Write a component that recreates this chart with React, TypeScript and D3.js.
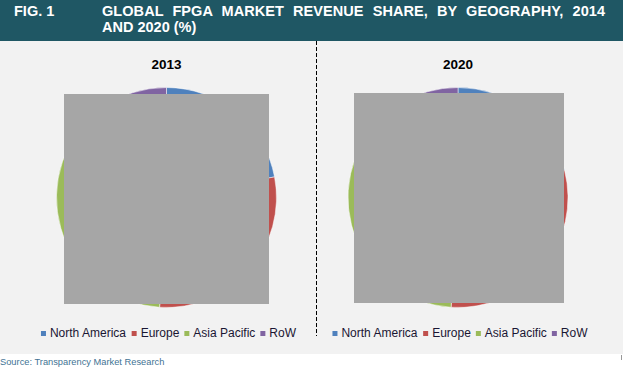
import React, { useEffect, useRef } from 'react';
import * as d3 from 'd3';

// legend / slice categories
const regions = ['North America', 'Europe', 'Asia Pacific', 'RoW'];
const regionColors = ['#4f81bd', '#c0504d', '#9bbb59', '#8064a2'];

// share values (%) — mostly hidden behind the grey boxes
const share2013 = [22, 29, 39, 10];
const share2020 = [21, 30, 40, 9];

const panelYears = ['2013', '2020'];
const titleLine1 = 'GLOBAL FPGA MARKET REVENUE SHARE, BY GEOGRAPHY, 2014';
const titleLine2 = 'AND 2020 (%)';
const sourceText = 'Source: Transparency Market Research';

export default function App() {
  const svgRef = useRef<SVGSVGElement>(null);
  const width = 623;
  const height = 370;

  useEffect(() => {
    if (!svgRef.current) return;
    const svg = d3.select(svgRef.current);
    svg.selectAll('*').remove();

    // background areas
    svg.append('rect').attr('width', width).attr('height', height).attr('fill', '#ffffff');
    svg.append('rect').attr('x', 0).attr('y', 41).attr('width', width).attr('height', 313).attr('fill', '#f2f2f2');
    svg.append('rect').attr('x', 0).attr('y', 0).attr('width', width).attr('height', 41).attr('fill', '#1f5764');

    // header text
    const font = 'Arial, "Liberation Sans", sans-serif';
    svg.append('text')
      .attr('x', 14).attr('y', 16)
      .attr('font-family', font).attr('font-size', 14.5).attr('font-weight', 'bold')
      .attr('fill', '#fff')
      .text('FIG. 1');
    svg.append('text')
      .attr('x', 102).attr('y', 16)
      .attr('font-family', font).attr('font-size', 14.5).attr('font-weight', 'bold')
      .attr('fill', '#fff')
      .attr('textLength', 503).attr('lengthAdjust', 'spacing')
      .style('word-spacing', '5px')
      .text(titleLine1);
    svg.append('text')
      .attr('x', 102).attr('y', 31.5)
      .attr('font-family', font).attr('font-size', 14.5).attr('font-weight', 'bold')
      .attr('fill', '#fff')
      .text(titleLine2);

    // divider
    svg.append('line')
      .attr('x1', 316.5).attr('x2', 316.5).attr('y1', 41).attr('y2', 336)
      .attr('stroke', '#000').attr('stroke-width', 1)
      .attr('stroke-dasharray', '4,2');

    const color = d3.scaleOrdinal<string>().domain(regions).range(regionColors);
    const pie = d3.pie<number>().sort(null).value(d => d);
    const arc = d3.arc<d3.PieArcDatum<number>>().innerRadius(0).outerRadius(110);

    const ctx = document.createElement('canvas').getContext('2d')!;
    ctx.font = '12px Arial, "Liberation Sans", sans-serif';

    const panels = [
      { year: panelYears[0], values: share2013, cx: 166.5, cy: 197.5, box: [64, 94, 205, 210] },
      { year: panelYears[1], values: share2020, cx: 458, cy: 197.5, box: [354, 93, 210, 210] },
    ];

    panels.forEach(p => {
      svg.append('text')
        .attr('x', p.cx).attr('y', 69)
        .attr('text-anchor', 'middle')
        .attr('font-family', font).attr('font-size', 13.5).attr('font-weight', 'bold')
        .attr('fill', '#000')
        .text(p.year);

      const g = svg.append('g').attr('transform', `translate(${p.cx},${p.cy})`);
      g.selectAll('path')
        .data(pie(p.values))
        .join('path')
        .attr('d', arc)
        .attr('fill', (_, i) => color(regions[i]))
        .attr('stroke', '#ffffff')
        .attr('stroke-width', 0.5);

      // grey box covering the pie
      svg.append('rect')
        .attr('x', p.box[0]).attr('y', p.box[1])
        .attr('width', p.box[2]).attr('height', p.box[3])
        .attr('fill', '#a6a6a6');

      // legend, centred under the pie
      const itemWidths = regions.map(r => 9 + ctx.measureText(r).width);
      const gap = 5;
      const total = d3.sum(itemWidths) + gap * (regions.length - 1);
      let x = p.cx + 2 - total / 2;
      const lg = svg.append('g');
      regions.forEach((r, i) => {
        lg.append('rect')
          .attr('x', x).attr('y', 331)
          .attr('width', 5).attr('height', 5)
          .attr('fill', color(r));
        lg.append('text')
          .attr('x', x + 9).attr('y', 337)
          .attr('font-family', font).attr('font-size', 12)
          .attr('fill', '#1a1633')
          .text(r);
        x += itemWidths[i] + gap;
      });
    });

    // source line
    svg.append('text')
      .attr('x', 0).attr('y', 365)
      .attr('font-family', font).attr('font-size', 9.3)
      .attr('fill', '#3f7394')
      .text(sourceText);

    svg.append('rect')
      .attr('x', 621).attr('y', 355).attr('width', 1).attr('height', 5)
      .attr('fill', '#999');
  }, []);

  return (
    <svg
      ref={svgRef}
      width={width}
      height={height}
      style={{ position: 'absolute', left: 0, top: 0 }}
    />
  );
}
